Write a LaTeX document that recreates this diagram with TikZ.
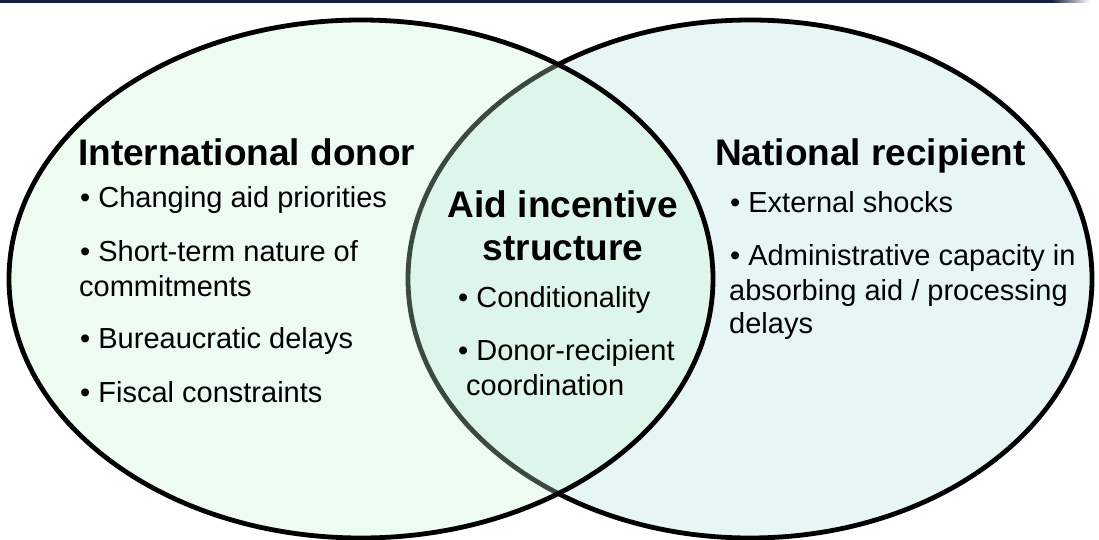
\documentclass[tikz,border=0pt]{standalone}
\usepackage{fontspec}
\setmainfont{Liberation Sans}
\definecolor{leftfill}{RGB}{200,245,207}
\definecolor{rightfill}{RGB}{232,245,245}
\definecolor{navy}{RGB}{22,33,66}
\tikzset{
  titletext/.style={anchor=base west, inner sep=0pt, font=\fontsize{37}{44}\selectfont\bfseries},
  bodytext/.style={anchor=base west, inner sep=0pt, font=\fontsize{29}{35}\selectfont},
  vennline/.style={line width=4.8pt, draw=black}
}
\begin{document}
\begin{tikzpicture}[x=1pt,y=-1pt]
\useasboundingbox (0,0) rectangle (1099,540);
\clip (0,0) rectangle (1099,540);
\fill[white] (0,0) rectangle (1099,540);
% top bar
\fill[navy] (0,0) rectangle (1052,3);
\shade[left color=navy, right color=white] (1052,0) rectangle (1090,3);
% right ellipse (recipient)
\draw[vennline, fill=rightfill] (750,279) ellipse [x radius=342pt, y radius=259pt];
% left ellipse (donor), translucent fill
\fill[leftfill, fill opacity=0.3] (361,279) ellipse [x radius=352pt, y radius=259pt];
\draw[vennline] (361,279) ellipse [x radius=352pt, y radius=259pt];
% left texts
\node[titletext] (dtitle) at (78,165) {International donor};
\node[bodytext] (d1) at (80,207) {• Changing aid priorities};
\node[bodytext] (d2a) at (80,261) {• Short-term nature of};
\node[bodytext] (d2b) at (79,296) {commitments};
\node[bodytext] (d3) at (80,348) {• Bureaucratic delays};
\node[bodytext] (d4) at (80,402) {• Fiscal constraints};
% center texts
\node[titletext, anchor=base] (ctitle1) at (563,217) {Aid incentive};
\node[titletext, anchor=base] (ctitle2) at (563,260) {structure};
\node[bodytext] (c1) at (458,307) {• Conditionality};
\node[bodytext] (c2a) at (458,360) {• Donor-recipient};
\node[bodytext] (c2b) at (466,395) {coordination};
% right texts
\node[titletext] (rtitle) at (715,165) {National recipient};
\node[bodytext] (r1) at (730,212) {• External shocks};
\node[bodytext] (r2a) at (730,265) {• Administrative capacity in};
\node[bodytext] (r2b) at (729,300) {absorbing aid / processing};
\node[bodytext] (r2c) at (729,333) {delays};
\end{tikzpicture}
\end{document}
